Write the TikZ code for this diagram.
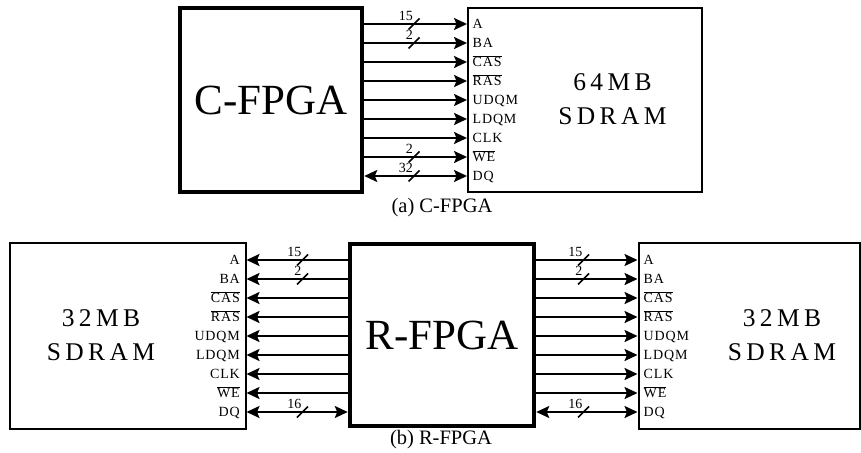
\documentclass[tikz,border=0pt]{standalone}
\usepackage{fontspec}
\setmainfont{Liberation Serif}
\newfontfamily\pinfont[LetterSpace=6]{Liberation Serif}
\newfontfamily\memfont[LetterSpace=17]{Liberation Serif}
\usetikzlibrary{arrows.meta, calc}
\newcommand{\negsig}[1]{$\overline{\hbox{#1}}$}
\def\pinlist{A,BA,\negsig{CAS},\negsig{RAS},UDQM,LDQM,CLK,\negsig{WE},DQ}

\begin{document}
\begin{tikzpicture}[x=1pt, y=-1pt,
  fpga/.style={rectangle, draw, line width=4.5pt, inner sep=0pt,
               font=\fontsize{43}{43}\selectfont},
  sdram/.style={rectangle, draw, line width=2pt, inner sep=0pt},
  memlbl/.style={align=center, inner sep=0pt, font=\fontsize{25.5}{34}\memfont},
  pinlbl/.style={inner sep=0pt, text height=9.3pt, text depth=0pt,
                 font=\fontsize{14}{16}\pinfont},
  buslbl/.style={anchor=base east, inner sep=0pt, font=\fontsize{14}{14}\selectfont},
  subcap/.style={inner sep=0pt, font=\fontsize{20.5}{24}\selectfont},
  arr/.style={-{Stealth[length=13pt, width=12pt, inset=2.5pt]}, line width=2pt},
  bidir/.style={{Stealth[length=13pt, width=12pt, inset=2.5pt]}-{Stealth[length=13pt, width=12pt, inset=2.5pt]}, line width=2pt},
  bus/.style={line width=1.5pt}
]
  \useasboundingbox (0,0) rectangle (861,452);

  % (a) C-FPGA with one 64MB SDRAM
  \node[fpga, minimum width=182pt, minimum height=184pt] (cfpga) at (271,100) {C-FPGA};
  \node[sdram, minimum width=234pt, minimum height=184pt] (sdram64) at (585,100) {};
  \node[memlbl] (mem64) at (612.5,99.5) {64MB\\SDRAM};
  \foreach \pin [count=\i from 0] in \pinlist
    \node[pinlbl, anchor=west] (tp\i) at (472.5,{24+19*\i}) {\pin};
  \foreach \i in {0,...,7}
    \draw[arr] (cfpga.east |- tp\i) -- (sdram64.west |- tp\i);
  \draw[bidir] (cfpga.east |- tp8) -- (sdram64.west |- tp8);
  \node[subcap] (capa) at (442,208) {(a) C-FPGA};

  % (b) R-FPGA with two 32MB SDRAMs
  \node[fpga, minimum width=184pt, minimum height=182pt] (rfpga) at (442,335) {R-FPGA};
  \node[sdram, minimum width=236pt, minimum height=186pt] (sdramL) at (127.5,336) {};
  \node[sdram, minimum width=221pt, minimum height=186pt] (sdramR) at (749,336) {};
  \node[memlbl] (memL) at (101,335) {32MB\\SDRAM};
  \node[memlbl] (memR) at (782,335) {32MB\\SDRAM};
  \foreach \pin [count=\i from 0] in \pinlist {
    \node[pinlbl, anchor=east] (lp\i) at (240,{260+19*\i}) {\pin};
    \node[pinlbl, anchor=west] (rp\i) at (643.5,{260+19*\i}) {\pin};
  }
  \foreach \i in {0,...,7} {
    \draw[arr] (rfpga.west |- lp\i) -- (sdramL.east |- lp\i);
    \draw[arr] (rfpga.east |- rp\i) -- (sdramR.west |- rp\i);
  }
  \draw[bidir] (rfpga.west |- lp8) -- (sdramL.east |- lp8);
  \draw[bidir] (rfpga.east |- rp8) -- (sdramR.west |- rp8);
  \node[subcap] (capb) at (441,440) {(b) R-FPGA};

  % bus width marks
  \foreach \sx/\sy/\w in {414/24/15, 414/43/2, 414/157/2, 414/176/32,
                          302.5/260/15, 302.5/279/2, 302.5/412/16,
                          583.5/260/15, 583.5/279/2, 583.5/412/16} {
    \draw[bus] (\sx,\sy) ++(-5.5,5.5) -- ++(11,-11);
    \node[buslbl] at (\sx-1,\sy-3.5) {\w};
  }
\end{tikzpicture}
\end{document}
